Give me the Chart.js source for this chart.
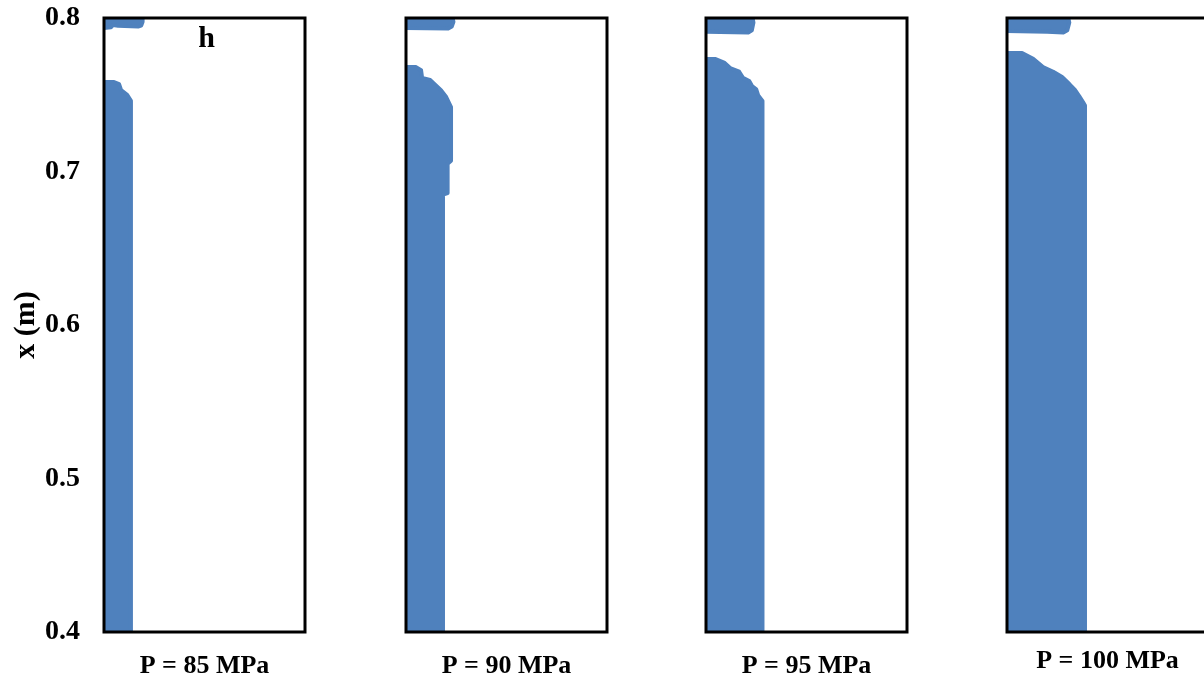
<!DOCTYPE html>
<html>
<head>
<meta charset="utf-8">
<script src="https://cdn.jsdelivr.net/npm/chart.js@4/dist/chart.umd.min.js"></script>
<style>
  html, body { margin: 0; padding: 0; background: #fff; overflow: hidden; }
  #wrap { position: relative; width: 1204px; height: 679px; }
  .panel { position: absolute; top: 0; height: 679px; }
</style>
</head>
<body>
<div id="wrap">
  <div class="panel" style="left:0;width:310px"><canvas id="c1"></canvas></div>
  <div class="panel" style="left:401px;width:211px"><canvas id="c2"></canvas></div>
  <div class="panel" style="left:701px;width:211px"><canvas id="c3"></canvas></div>
  <div class="panel" style="left:1002px;width:211px"><canvas id="c4"></canvas></div>
</div>
<script>
// panel captions
const pressures = ['P = 85 MPa', 'P = 90 MPa', 'P = 95 MPa', 'P = 100 MPa'];
const yTicks = [0.4, 0.5, 0.6, 0.7, 0.8];

// outline of the blue region in each panel, [width fraction, x (m)]
const body85 = [[0, 0.4], [0.134, 0.4], [0.134, 0.746], [0.115, 0.75], [0.085, 0.753], [0.075, 0.757], [0.05, 0.7583], [0, 0.7583]];
const body90 = [[0, 0.4], [0.184, 0.4], [0.184, 0.685], [0.207, 0.686], [0.207, 0.705], [0.224, 0.707], [0.224, 0.742], [0.2, 0.7485], [0.174, 0.753], [0.12, 0.7596], [0.08, 0.761], [0.075, 0.766], [0.05, 0.768], [0, 0.768]];
const body95 = [[0, 0.4], [0.281, 0.4], [0.281, 0.746], [0.26, 0.7495], [0.25, 0.7535], [0.229, 0.7557], [0.215, 0.759], [0.184, 0.761], [0.165, 0.765], [0.12, 0.7674], [0.09, 0.771], [0.045, 0.7733], [0, 0.7733]];
const body100 = [[0, 0.4], [0.388, 0.4], [0.388, 0.743], [0.378, 0.7453], [0.36, 0.749], [0.338, 0.7531], [0.31, 0.757], [0.274, 0.7616], [0.23, 0.765], [0.179, 0.768], [0.13, 0.7735], [0.075, 0.7772], [0, 0.7772]];

// thin strip at the top (h)
const top85 = [[0, 0.8], [0.19, 0.8], [0.192, 0.7975], [0.185, 0.795], [0.17, 0.7945], [0.07, 0.795], [0.045, 0.7955], [0.035, 0.794], [0, 0.7935]];
const top90 = [[0, 0.8], [0.232, 0.8], [0.236, 0.7975], [0.228, 0.7945], [0.21, 0.7932], [0, 0.7935]];
const top95 = [[0, 0.8], [0.232, 0.8], [0.236, 0.797], [0.228, 0.792], [0.21, 0.7905], [0, 0.791]];
const top100 = [[0, 0.8], [0.305, 0.8], [0.31, 0.797], [0.3, 0.792], [0.28, 0.7905], [0.2, 0.791], [0, 0.7915]];

const bodies = [body85, body90, body95, body100];
const tops = [top85, top90, top95, top100];

const BLUE = '#4f81bd';
const SERIF = '"Liberation Serif", "Times New Roman", serif';

const toPts = arr => arr.map(p => ({ x: p[0], y: p[1] }));

// black frame round the plot area
const framePlugin = {
    id: 'frame',
    afterDraw(chart) {
        const a = chart.chartArea;
        const ctx = chart.ctx;
        ctx.save();
        ctx.strokeStyle = '#000';
        ctx.lineWidth = 3;
        ctx.strokeRect(a.left, a.top, a.right - a.left, a.bottom - a.top);
        ctx.restore();
    }
};

// the "h" mark in the first panel
const hPlugin = {
    id: 'hmark',
    afterDraw(chart) {
        const ctx = chart.ctx;
        ctx.save();
        ctx.font = 'bold 30px ' + SERIF;
        ctx.fillStyle = '#000';
        ctx.textAlign = 'center';
        ctx.textBaseline = 'middle';
        ctx.fillText('h', chart.scales.x.getPixelForValue(0.51), chart.scales.y.getPixelForValue(0.786));
        ctx.restore();
    }
};

function makePanel(idx) {
    const first = idx === 0;
    const ctx = document.getElementById('c' + (idx + 1)).getContext('2d');
    const shape = data => ({
        data: toPts(data),
        showLine: true,
        fill: 'shape',
        backgroundColor: BLUE,
        borderColor: BLUE,
        borderWidth: 4,
        borderJoinStyle: 'round',
        pointRadius: 0,
        tension: 0
    });
    new Chart(ctx, {
        type: 'scatter',
        data: { datasets: [shape(bodies[idx]), shape(tops[idx])] },
        options: {
            responsive: true,
            maintainAspectRatio: false,
            animation: false,
            layout: { padding: { top: 18, left: first ? 0 : 5, right: 5, bottom: 0 } },
            plugins: { legend: { display: false }, tooltip: { enabled: false } },
            scales: {
                x: {
                    type: 'linear', min: 0, max: 1,
                    grid: { display: false, drawTicks: false },
                    border: { display: false },
                    ticks: { display: false },
                    title: {
                        display: true,
                        text: pressures[idx],
                        color: '#000',
                        font: { family: SERIF, size: 26, weight: 'bold' },
                        padding: { top: 0, bottom: idx === 3 ? 2 : -3 }
                    },
                    afterFit(scale) {
                        scale.height = 47;
                        scale.paddingLeft = 0;
                        scale.paddingRight = 0;
                    }
                },
                y: {
                    type: 'linear', min: 0.4, max: 0.8,
                    display: first,
                    grid: { display: false, drawTicks: false },
                    border: { display: false },
                    afterBuildTicks(scale) { scale.ticks = yTicks.map(v => ({ value: v })); },
                    ticks: {
                        color: '#000',
                        padding: 24,
                        font: { family: SERIF, size: 28, weight: 'bold' },
                        callback: v => v.toFixed(1)
                    },
                    title: {
                        display: true,
                        text: 'x (m)',
                        color: '#000',
                        font: { family: SERIF, size: 30, weight: 'bold' },
                        padding: { top: 8, bottom: 0 }
                    },
                    afterFit(scale) {
                        if (first) scale.width = 104;
                        scale.paddingTop = 0;
                        scale.paddingBottom = 0;
                    }
                }
            }
        },
        plugins: first ? [framePlugin, hPlugin] : [framePlugin]
    });
}

document.addEventListener('DOMContentLoaded', () => {
    for (let i = 0; i < 4; i++) makePanel(i);
});
</script>
</body>
</html>
